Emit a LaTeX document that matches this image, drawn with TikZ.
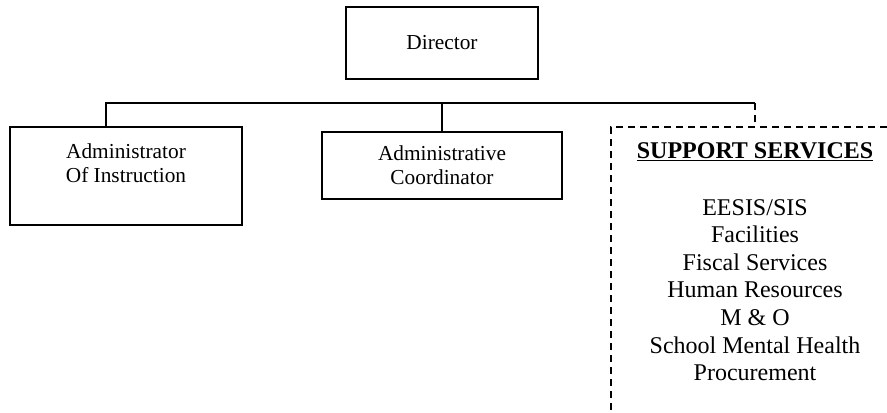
\documentclass[tikz,border=0pt]{standalone}
\usepackage{fontspec}
\setmainfont{Liberation Serif}
\usetikzlibrary{positioning}

\begin{document}
\begin{tikzpicture}[x=0.75pt, y=-0.75pt,
		unitbox/.style={draw, line width=1.4pt, align=center, inner sep=0pt,
			font=\fontsize{16}{18}\selectfont},
		link/.style={line width=1.4pt},
		dashlink/.style={line width=1.2pt, dash pattern=on 5.5pt off 3.5pt}]
	\useasboundingbox (0,0) rectangle (887,412);
	%--- Boxes ---
	\node[unitbox, minimum width=144pt, minimum height=54pt] (dir) at (442,43)
	{Director};
	\node[unitbox, minimum width=174pt, text height=41.6pt, text depth=31.9pt]
	(instr) at (126,176) {Administrator\\Of Instruction};
	\node[unitbox, minimum width=180pt, minimum height=50.3pt]
	(coord) at (442,165.5) {Administrative\\ Coordinator};
	%--- Support services ---
	\node[font=\fontsize{18}{20.7}\selectfont\bfseries] (suptitle) at (755,152)
	{\underline{SUPPORT SERVICES}};
	\node[align=center, font=\fontsize{18}{20.7}\selectfont] (suplist) at (755,290)
	{EESIS/SIS\\Facilities\\Fiscal Services\\Human Resources\\M \& O\\
		School Mental Health\\Procurement};
	%--- Connectors ---
	\coordinate (busL) at (106,103);
	\coordinate (busR) at (755,103);
	\coordinate (frameNE) at (887,127);
	\coordinate (frameNW) at (611,127);
	\coordinate (frameSW) at (611,412);
	\draw[link] (busL |- instr.north) -- (busL) -- (busR);
	\draw[link] (coord.north) -- (coord.north |- busR);
	% dashed: open frame round the support list
	\draw[dashlink] (busR) -- (busR |- frameNW);
	\draw[dashlink] (frameNE) -- (frameNW) -- (frameSW);
\end{tikzpicture}
\end{document}
